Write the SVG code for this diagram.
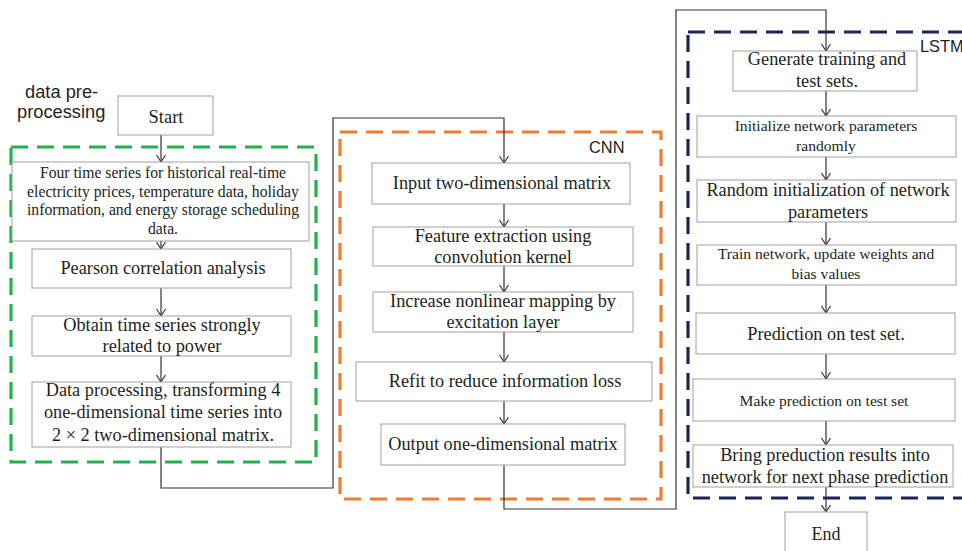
<svg xmlns="http://www.w3.org/2000/svg" width="962" height="551" viewBox="0 0 962 551">
<style>
.box{fill:#fff;stroke:#a0a0a0;stroke-width:1}
.t{font-family:"Liberation Serif","Times New Roman",serif;fill:#231f20;text-anchor:middle;font-size:18.3px}
.s{font-size:15.6px}
.m{font-size:15.7px}
.lbl{font-family:"Liberation Sans",Arial,sans-serif;fill:#231f20;font-size:16.4px}
.con{fill:none;stroke:#333;stroke-width:1.2}
.dash{fill:none;stroke-width:3.2;stroke-dasharray:17 9}
</style>
<defs>
<marker id="arr" markerUnits="userSpaceOnUse" markerWidth="12" markerHeight="12" viewBox="-9 -6 12 12" refX="0" refY="0" orient="auto">
<path d="M-7,-4.5 L0,0 L-7,4.5" fill="none" stroke="#333" stroke-width="1.2"/>
</marker>
</defs>
<rect width="962" height="551" fill="#fff"/>

<g id="groups">
<rect class="dash" x="11" y="147" width="305" height="315" stroke="#22b14c"/>
<rect class="dash" x="340" y="132" width="321" height="367" stroke="#ee7d31"/>
<rect class="dash" x="688" y="32" width="285" height="466" stroke="#1c2559"/>
<text class="lbl" x="25" y="98" style="font-size:18.3px">data pre-</text>
<text class="lbl" x="17" y="118" style="font-size:18.3px">processing</text>
<text class="lbl" x="589" y="153">CNN</text>
<text class="lbl" x="920" y="52">LSTM</text>
</g>

<g id="connectors">
<path class="con" d="M161,135 V162" marker-end="url(#arr)"/>
<path class="con" d="M161,241 V249" marker-end="url(#arr)"/>
<path class="con" d="M161,288 V316" marker-end="url(#arr)"/>
<path class="con" d="M161,356 V382" marker-end="url(#arr)"/>
<path class="con" d="M161,447 V488 H333 V118 H504 V163" marker-end="url(#arr)"/>
<path class="con" d="M504,204 V227" marker-end="url(#arr)"/>
<path class="con" d="M504,266 V292" marker-end="url(#arr)"/>
<path class="con" d="M504,332 V362" marker-end="url(#arr)"/>
<path class="con" d="M504,401 V424" marker-end="url(#arr)"/>
<path class="con" d="M504,465 V509 H676 V10 H826 V51" marker-end="url(#arr)"/>
<path class="con" d="M826,91 V116" marker-end="url(#arr)"/>
<path class="con" d="M826,157 V180" marker-end="url(#arr)"/>
<path class="con" d="M826,222 V245" marker-end="url(#arr)"/>
<path class="con" d="M826,285 V313" marker-end="url(#arr)"/>
<path class="con" d="M826,354 V379" marker-end="url(#arr)"/>
<path class="con" d="M826,421 V445" marker-end="url(#arr)"/>
<path class="con" d="M826,487 V512" marker-end="url(#arr)"/>
</g>

<g id="start"><rect class="box" x="118" y="96" width="95" height="39"/><text class="t" x="166" y="123" style="font-size:18.5px">Start</text></g>
<g id="four-series"><rect class="box" x="12" y="162" width="297" height="79"/>
<text class="t m" x="163" y="178">Four time series for historical real-time</text>
<text class="t m" x="163" y="197">electricity prices, temperature data, holiday</text>
<text class="t m" x="163" y="215">information, and energy storage scheduling</text>
<text class="t m" x="163" y="234">data.</text></g>
<g id="pearson"><rect class="box" x="32" y="249" width="259" height="39"/><text class="t" x="163" y="274">Pearson correlation analysis</text></g>
<g id="obtain"><rect class="box" x="32" y="316" width="259" height="40"/>
<text class="t" x="162" y="331">Obtain time series strongly</text>
<text class="t" x="162" y="352">related to power</text></g>
<g id="data-processing"><rect class="box" x="32" y="382" width="259" height="65"/>
<text class="t" x="163" y="396">Data processing, transforming 4</text>
<text class="t" x="163" y="418">one-dimensional time series into</text>
<text class="t" x="163" y="441">2 × 2 two-dimensional matrix.</text></g>

<g id="input"><rect class="box" x="372" y="163" width="258" height="41"/><text class="t" x="502" y="189">Input two-dimensional matrix</text></g>
<g id="feature"><rect class="box" x="373" y="227" width="260" height="39"/>
<text class="t" x="503" y="242">Feature extraction using</text>
<text class="t" x="503" y="263">convolution kernel</text></g>
<g id="increase"><rect class="box" x="373" y="292" width="260" height="40"/>
<text class="t" x="503" y="307">Increase nonlinear mapping by</text>
<text class="t" x="503" y="328">excitation layer</text></g>
<g id="refit"><rect class="box" x="356" y="362" width="296" height="39"/><text class="t" x="505" y="387">Refit to reduce information loss</text></g>
<g id="output"><rect class="box" x="381" y="424" width="244" height="41"/><text class="t" x="503" y="450">Output one-dimensional matrix</text></g>

<g id="generate"><rect class="box" x="733" y="51" width="184" height="40"/>
<text class="t" x="827" y="65">Generate training and</text>
<text class="t" x="827" y="87">test sets.</text></g>
<g id="init-random"><rect class="box" x="697" y="116" width="259" height="41"/>
<text class="t s" x="826" y="131">Initialize network parameters</text>
<text class="t s" x="826" y="151">randomly</text></g>
<g id="random-init"><rect class="box" x="697" y="180" width="259" height="42"/>
<text class="t" x="828" y="196">Random initialization of network</text>
<text class="t" x="828" y="218">parameters</text></g>
<g id="train"><rect class="box" x="697" y="245" width="259" height="40"/>
<text class="t s" x="826" y="259">Train network, update weights and</text>
<text class="t s" x="826" y="279">bias values</text></g>
<g id="prediction"><rect class="box" x="696" y="313" width="259" height="41"/><text class="t" x="826" y="340">Prediction on test set.</text></g>
<g id="make-prediction"><rect class="box" x="693" y="379" width="262" height="42"/><text class="t s" x="824" y="406">Make prediction on test set</text></g>
<g id="bring"><rect class="box" x="693" y="445" width="260" height="42"/>
<text class="t" x="825" y="461">Bring preduction results into</text>
<text class="t" x="825" y="483">network for next phase prediction</text></g>
<g id="end"><rect class="box" x="785" y="512" width="82" height="45"/><text class="t" x="826" y="540" style="font-size:18px">End</text></g>
</svg>
